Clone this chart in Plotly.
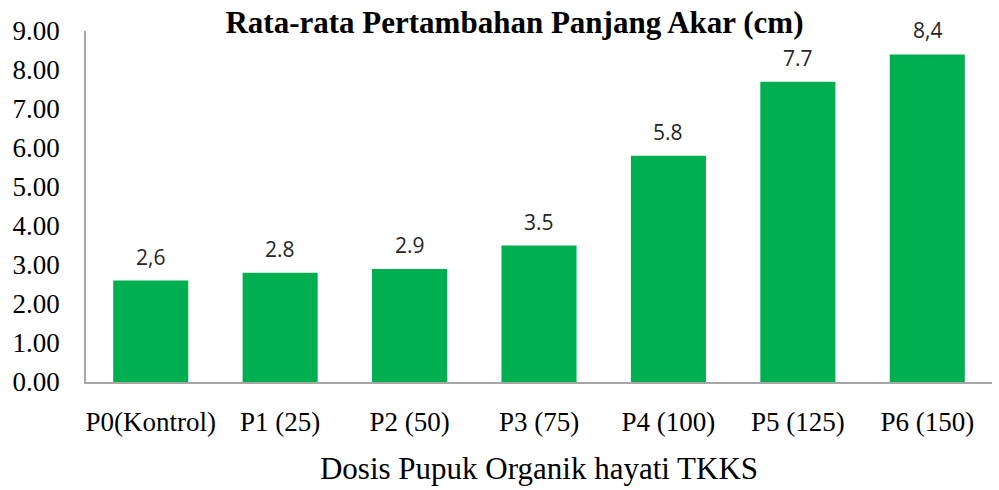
import plotly.graph_objects as go

categories = ["P0(Kontrol)", "P1 (25)", "P2 (50)", "P3 (75)", "P4 (100)", "P5 (125)", "P6 (150)"]
values = [2.6, 2.8, 2.9, 3.5, 5.8, 7.7, 8.4]
value_labels = ["2,6", "2.8", "2.9", "3.5", "5.8", "7.7", "8,4"]
y_ticks = [0, 1, 2, 3, 4, 5, 6, 7, 8, 9]
y_tick_labels = ["0.00", "1.00", "2.00", "3.00", "4.00", "5.00", "6.00", "7.00", "8.00", "9.00"]

serif = "Liberation Serif, Times New Roman, serif"
sans = "Open Sans, DejaVu Sans, sans-serif"

fig = go.Figure(
    go.Bar(
        x=categories,
        y=values,
        marker=dict(color="#00B050", line=dict(width=0)),
        width=0.58,
        hoverinfo="skip",
    )
)

for cat, val, lab in zip(categories, values, value_labels):
    fig.add_annotation(
        x=cat, y=val, text=lab, showarrow=False,
        yanchor="bottom", yshift=8,
        font=dict(family=sans, size=21, color="#262626"),
    )

fig.update_layout(
    width=999, height=490,
    margin=dict(l=86, r=7, t=31, b=108),
    paper_bgcolor="white", plot_bgcolor="white",
    showlegend=False,
    title=dict(
        text="<b>Rata-rata Pertambahan Panjang Akar (cm)</b>",
        x=0.515, xanchor="center", y=0.955, yanchor="middle",
        font=dict(family=serif, size=31, color="black"),
    ),
)

fig.update_xaxes(
    showline=True, linecolor="#A6A6A6", linewidth=1.5,
    ticks="", showgrid=False,
    tickfont=dict(family=serif, size=27, color="black"),
    ticklabelstandoff=15,
    title=dict(text="Dosis Pupuk Organik hayati TKKS",
               font=dict(family=serif, size=31, color="black"), standoff=21),
)
fig.update_yaxes(
    range=[0, 9], tickvals=y_ticks, ticktext=y_tick_labels,
    showline=True, linecolor="#A6A6A6", linewidth=1.5,
    ticks="", showgrid=False, zeroline=False,
    tickfont=dict(family=serif, size=27, color="black"),
    ticklabelstandoff=19,
)

fig.write_html("out.html")
